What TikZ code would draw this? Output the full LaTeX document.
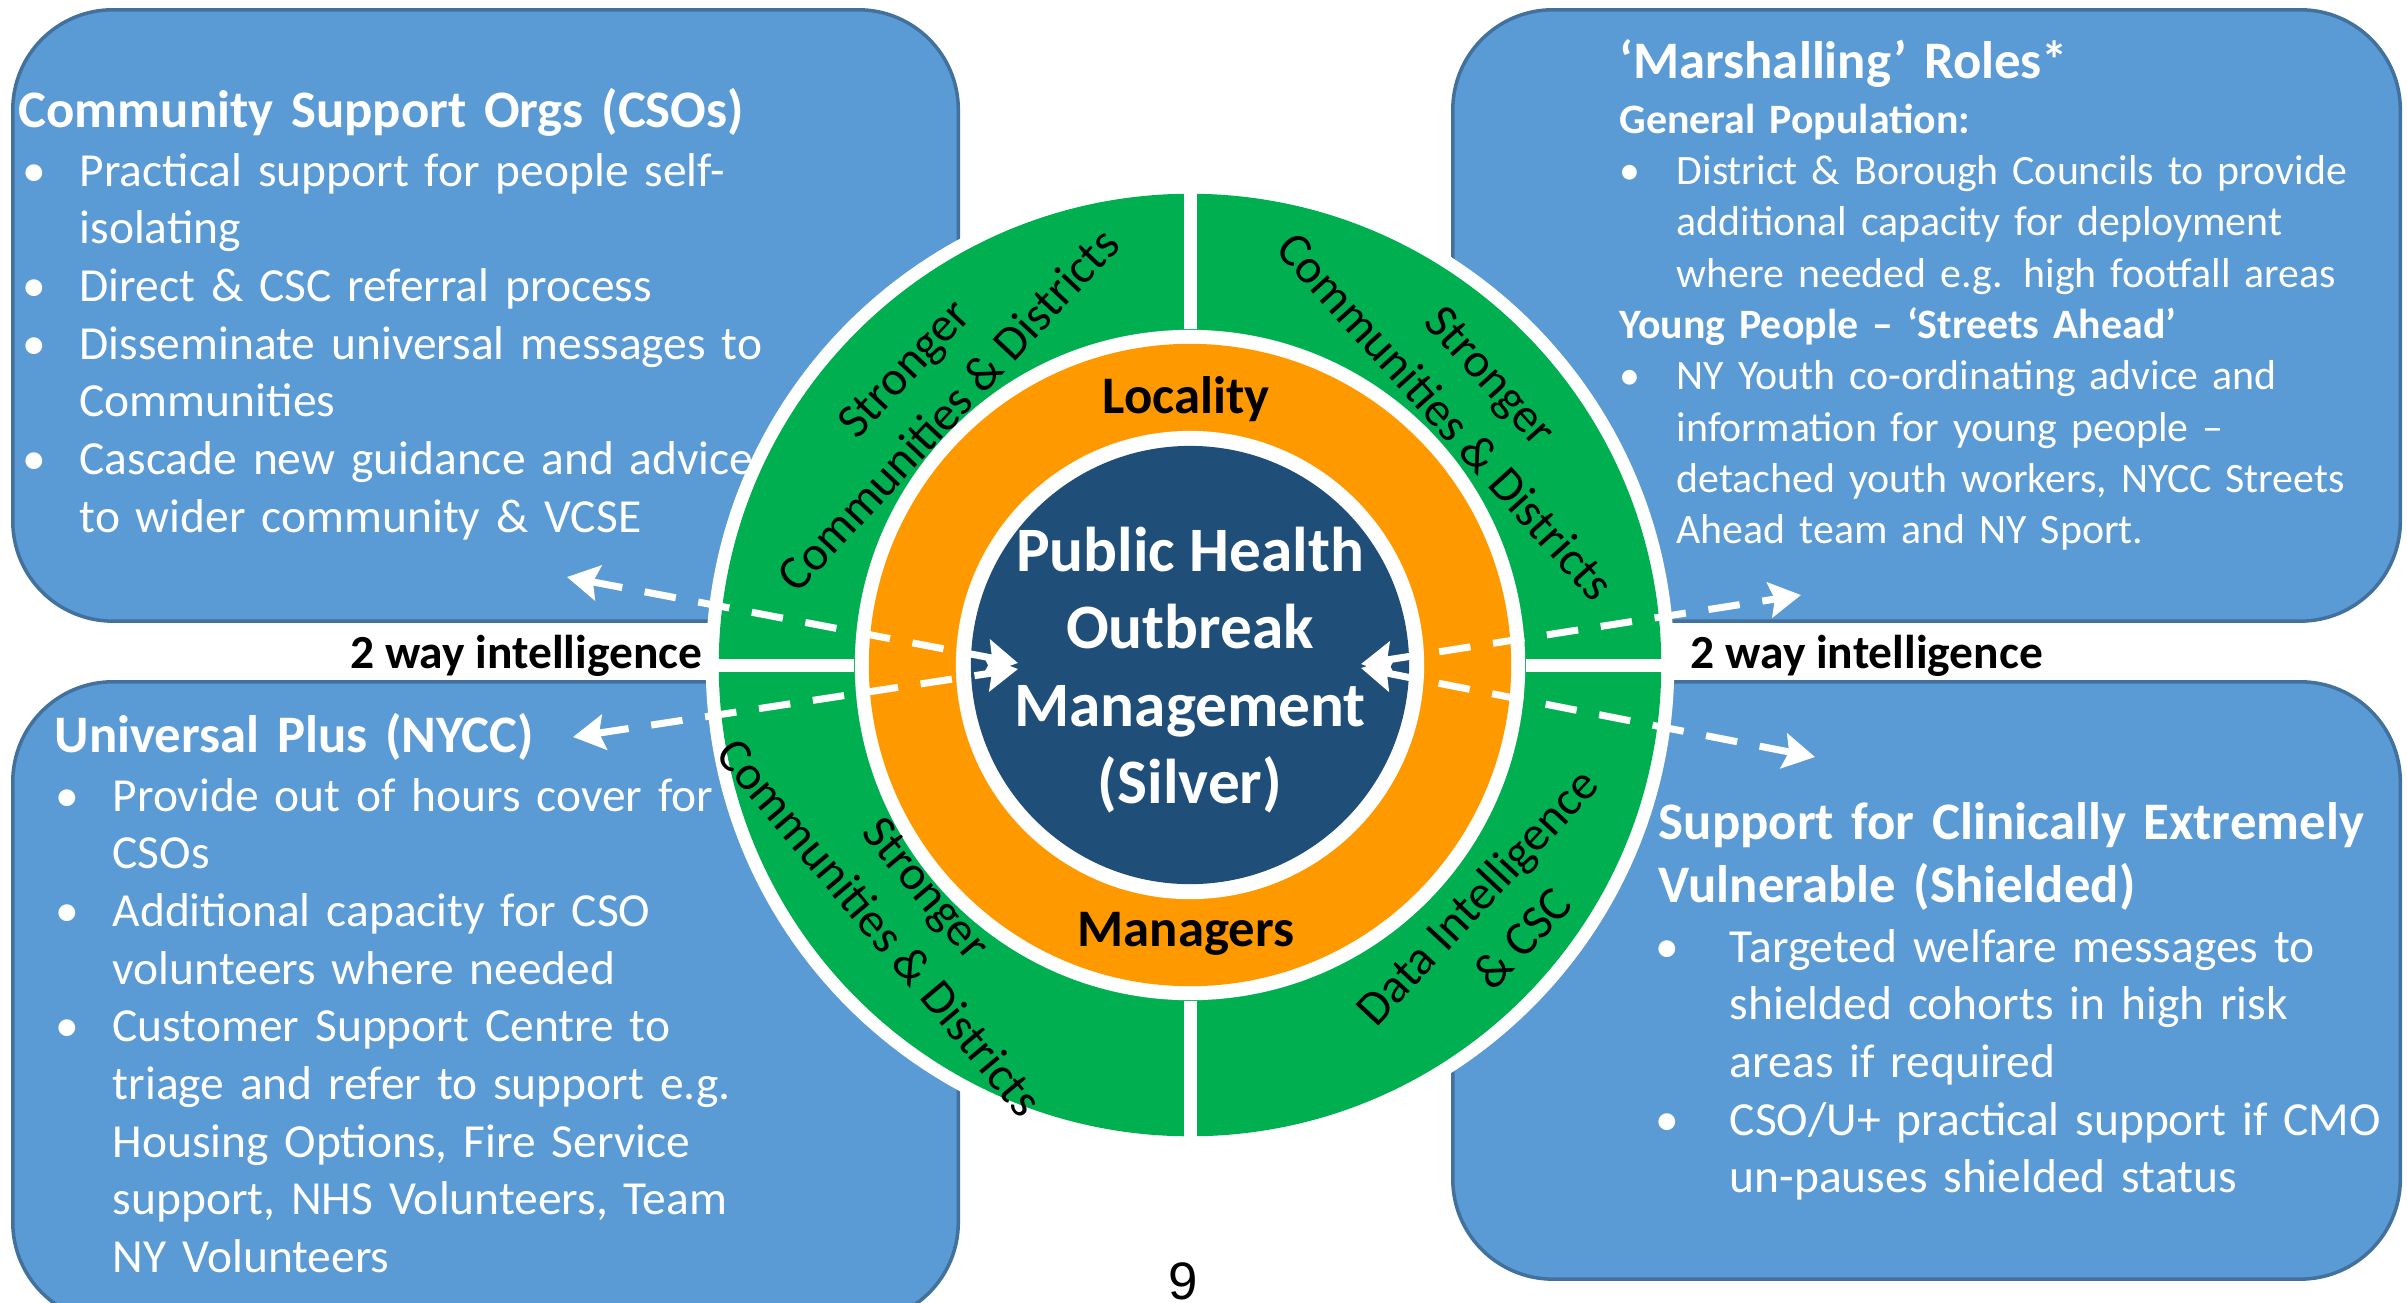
\documentclass[tikz,border=0pt]{standalone}
\usepackage{fontspec}
\setmainfont{Carlito}
\newfontfamily\pagefont{Liberation Sans}
\usetikzlibrary{arrows.meta,positioning}

\definecolor{boxblue}{HTML}{5B9BD5}
\definecolor{boxedge}{HTML}{41719C}
\definecolor{ringgreen}{HTML}{00B050}
\definecolor{ringorange}{HTML}{FF9900}
\definecolor{hubblue}{HTML}{1F4E79}

\newcommand{\bul}[1][16.2pt]{\makebox[#1][l]{\textbullet}}
\newcommand{\cnt}[1][16.2pt]{\hspace*{#1}}

\begin{document}
\begin{tikzpicture}[x=0.01cm,y=-0.01cm,
    infobox/.style={draw=boxedge,fill=boxblue,line width=1pt,rounded corners=1cm,anchor=north west,inner sep=0pt},
    boxtitle/.style={text=white,font=\fontsize{15}{18}\selectfont\bfseries,anchor=base west,inner sep=0pt,align=left,text width=#1},
    boxlist/.style={text=white,font=\fontsize{13.5}{16.4}\selectfont,anchor=base west,inner sep=0pt,align=left,text width=#1},
    ring/.style={circle,inner sep=0pt,minimum size=#1},
    divider/.style={white,line width=3.7pt},
    quad/.style={font=\fontsize{13.8}{17.4}\selectfont,align=center,inner sep=0pt},
    ringlabel/.style={font=\fontsize{15}{18}\selectfont\bfseries,anchor=base,inner sep=0pt},
    midlabel/.style={font=\fontsize{13.5}{16}\selectfont\bfseries,inner sep=0pt},
    twoway/.style={white,line width=2pt,dash pattern=on 9pt off 6.5pt,
      {Stealth[length=9pt,width=10pt,inset=1.5pt]}-{Stealth[length=9pt,width=10pt,inset=1.5pt]}}]
    \useasboundingbox (0,0) rectangle (2407,1302);

    % the four boxes
    \node[infobox,minimum width=9.45cm,minimum height=6.11cm] (csobox) at (11,8) {};
    \node[infobox,minimum width=9.45cm,minimum height=6.40cm] (upbox) at (11,680) {};
    \node[infobox,minimum width=9.47cm,minimum height=6.11cm] (marshbox) at (1451,8) {};
    \node[infobox,minimum width=9.47cm,minimum height=5.97cm] (cevbox) at (1451,680) {};

    \node[boxtitle=7.6cm] (csotitle) at (18,127) {Community Support Orgs (CSOs)};
    \node[boxlist=7.8cm] (csolist) at (22,186) {\bul Practical support for people self-\\\cnt isolating\\\bul Direct \& CSC referral process\\\bul Disseminate universal messages to\\\cnt Communities\\\bul Cascade new guidance and advice\\\cnt to wider community \& VCSE};

    \node[boxtitle=5.4cm] (uptitle) at (54,752) {Universal Plus (NYCC)};
    \node[boxlist=7.3cm] (uplist) at (55,811) {\bul Provide out of hours cover for\\\cnt CSOs\\\bul Additional capacity for CSO\\\cnt volunteers where needed\\\bul Customer Support Centre to\\\cnt triage and refer to support e.g.\\\cnt Housing Options, Fire Service\\\cnt support, NHS Volunteers, Team\\\cnt NY Volunteers};

    \node[boxtitle=5.2cm] (marshtitle) at (1619,78) {‘Marshalling’ Roles*};
    \node[boxlist=7.7cm,font=\fontsize{11.9}{14.6}\selectfont] (marshlist) at (1619,133) {\textbf{General Population:}\\\bul District \& Borough Councils to provide\\\cnt additional capacity for deployment\\\cnt where needed e.g. high footfall areas\\\textbf{Young People – ‘Streets Ahead’}\\\bul NY Youth co-ordinating advice and\\\cnt information for young people –\\\cnt detached youth workers, NYCC Streets\\\cnt Ahead team and NY Sport.};

    \node[boxtitle=7.3cm] (cevtitle) at (1658,839) {Support for Clinically Extremely\\Vulnerable (Shielded)};
    \node[boxlist=7.4cm] (cevlist) at (1655,962) {\bul[16.6pt] Targeted welfare messages to\\\cnt[16.6pt] shielded cohorts in high risk\\\cnt[16.6pt] areas if required\\\bul[16.6pt] CSO/U+ practical support if CMO\\\cnt[16.6pt] un-pauses shielded status};

    % rings
    \node[ring=9.68cm,fill=white] (rim) at (1190,665) {};
    \node[ring=9.42cm,fill=ringgreen] (green) at (rim) {};
    \node[ring=6.70cm,fill=white] (gap) at (rim) {};
    \node[ring=6.42cm,fill=ringorange] (orange) at (rim) {};
    \node[ring=4.68cm,fill=white] (inner) at (rim) {};
    \node[ring=4.38cm,fill=hubblue] (hub) at (rim) {};
    \node[text=white,align=center,font=\fontsize{18}{22}\selectfont\bfseries,inner sep=0pt] (hubtext) at (1190,670) {Public Health\\Outbreak\\Management\\(Silver)};

    \draw[divider] (rim.north) -- (gap.north);
    \draw[divider] (rim.south) -- (gap.south);
    \draw[divider] (rim.west) -- (gap.west);
    \draw[divider] (rim.east) -- (gap.east);

    \node[ringlabel] (locality) at (1186,413) {Locality};
    \node[ringlabel] (managers) at (1186,946) {Managers};

    \node[quad,rotate=47] (nwq) at (926,389) {Stronger\\Communities \& Districts};
    \node[quad,rotate=-48] (neq) at (1468,396) {Stronger\\Communities \& Districts};
    \node[quad,rotate=-50] (swq) at (903,908) {Stronger\\Communities \& Districts};
    \node[quad,rotate=47] (seq) at (1499,917) {Data Intelligence\\\& CSC};

    % intelligence flows
    \node[midlabel,anchor=base east] (intelW) at (703,668) {2 way intelligence};
    \node[midlabel,anchor=base west] (intelE) at (1690,668) {2 way intelligence};

    \coordinate (cso) at (567,577);
    \coordinate (uplus) at (573,737);
    \coordinate (hubW) at (1018,663);
    \coordinate (hubWl) at (1018,669);
    \coordinate (marsh) at (1801,595);
    \coordinate (cev) at (1815,757);
    \coordinate (hubE) at (1361,664);
    \coordinate (hubEl) at (1361,668);
    \draw[twoway] (cso) -- (hubW);
    \draw[twoway] (uplus) -- (hubWl);
    \draw[twoway] (hubE) -- (marsh);
    \draw[twoway] (hubEl) -- (cev);

    \node[font=\pagefont\fontsize{15}{18}\selectfont,anchor=base,inner sep=0pt] (pagenum) at (1183,1299) {9};
\end{tikzpicture}
\end{document}
